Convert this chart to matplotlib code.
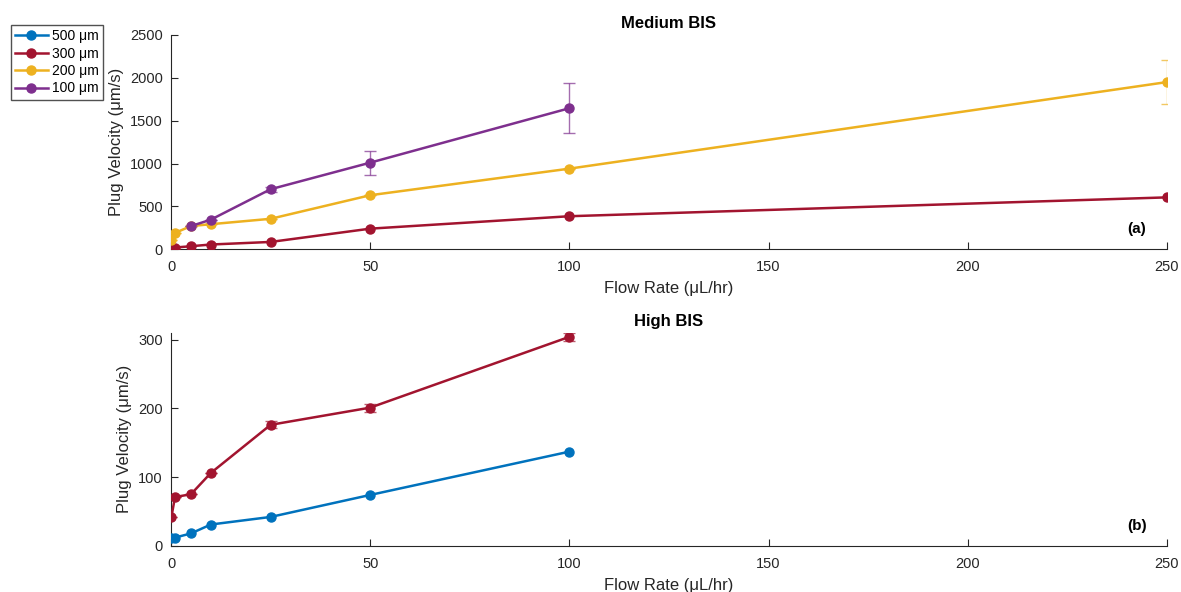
import matplotlib.pyplot as plt
from matplotlib.lines import Line2D

plt.rcParams["font.family"] = ["Liberation Sans", "DejaVu Sans"]

# medium BIS
med_300_x = [1, 5, 10, 25, 50, 100, 250]
med_300_y = [20, 35, 55, 85, 240, 385, 605]
med_200_x = [0.1, 1, 5, 10, 25, 50, 100, 250]
med_200_y = [105, 190, 270, 292, 355, 630, 940, 1950]
med_200_err = [0, 0, 0, 0, 0, 0, 0, 260]
med_100_x = [5, 10, 25, 50, 100]
med_100_y = [270, 345, 700, 1010, 1645]
med_100_err = [0, 0, 30, 140, 290]

# high BIS
high_500_x = [0.1, 1, 5, 10, 25, 50, 100]
high_500_y = [12, 12, 18, 31, 42, 74, 137]
high_300_x = [0.1, 1, 5, 10, 25, 50, 100]
high_300_y = [42, 71, 75, 106, 176, 201, 304]
high_300_err = [0, 0, 0, 0, 5, 6, 6]

labels = ["500 \u03bcm", "300 \u03bcm", "200 \u03bcm", "100 \u03bcm"]
colors = ["#0072BD", "#A2142F", "#EDB120", "#7E2F8E"]

fig = plt.figure(figsize=(11.81, 5.92), dpi=100)
ax1 = fig.add_axes([0.1448, 0.579, 0.8433, 0.362])
ax2 = fig.add_axes([0.1448, 0.078, 0.8433, 0.360])


def series(ax, x, y, c, err=None):
    ax.plot(x, y, color=c, lw=1.8, marker="o", ms=6.5, zorder=3)
    if err is not None:
        ax.errorbar(x, y, yerr=err, fmt="none", ecolor=c, elinewidth=1,
                    capsize=4, alpha=0.7, zorder=2)


series(ax1, med_300_x, med_300_y, colors[1])
series(ax1, med_200_x, med_200_y, colors[2], med_200_err)
series(ax1, med_100_x, med_100_y, colors[3], med_100_err)

series(ax2, high_300_x, high_300_y, colors[1], high_300_err)
series(ax2, high_500_x, high_500_y, colors[0])

ax1.set_ylim(0, 2500)
ax1.set_yticks([0, 500, 1000, 1500, 2000, 2500])
ax2.set_ylim(0, 310)
ax2.set_yticks([0, 100, 200, 300])

for ax, title, tag in [(ax1, "Medium BIS", "(a)"), (ax2, "High BIS", "(b)")]:
    ax.set_xlim(0, 250)
    ax.set_xticks([0, 50, 100, 150, 200, 250])
    for s in ["top", "right"]:
        ax.spines[s].set_visible(False)
    for s in ["left", "bottom"]:
        ax.spines[s].set_color("#262626")
        ax.spines[s].set_linewidth(0.8)
    ax.tick_params(direction="in", length=5, width=0.8, colors="#262626",
                   labelsize=10.5, pad=6)
    ax.tick_params(axis="x", pad=8)
    ax.set_xlabel("Flow Rate (\u03bcL/hr)", fontsize=12, color="#262626", labelpad=5)
    ax.set_ylabel("Plug Velocity (\u03bcm/s)", fontsize=12, color="#262626")
    ax.set_title(title, fontsize=12, fontweight="bold", pad=5)
    ax.text(0.97, 0.06, tag, transform=ax.transAxes, fontsize=11,
            fontweight="bold", ha="center", va="bottom")

handles = [Line2D([], [], color=c, lw=1.8, marker="o", ms=6.5) for c in colors]
fig.legend(handles, labels, loc="upper left", bbox_to_anchor=(0.009, 0.958),
           fontsize=10, frameon=True, fancybox=False, edgecolor="#262626",
           handlelength=2.4, handletextpad=0.3, borderpad=0.3, labelspacing=0.25,
           borderaxespad=0)

fig.savefig("out.png", dpi=100)
